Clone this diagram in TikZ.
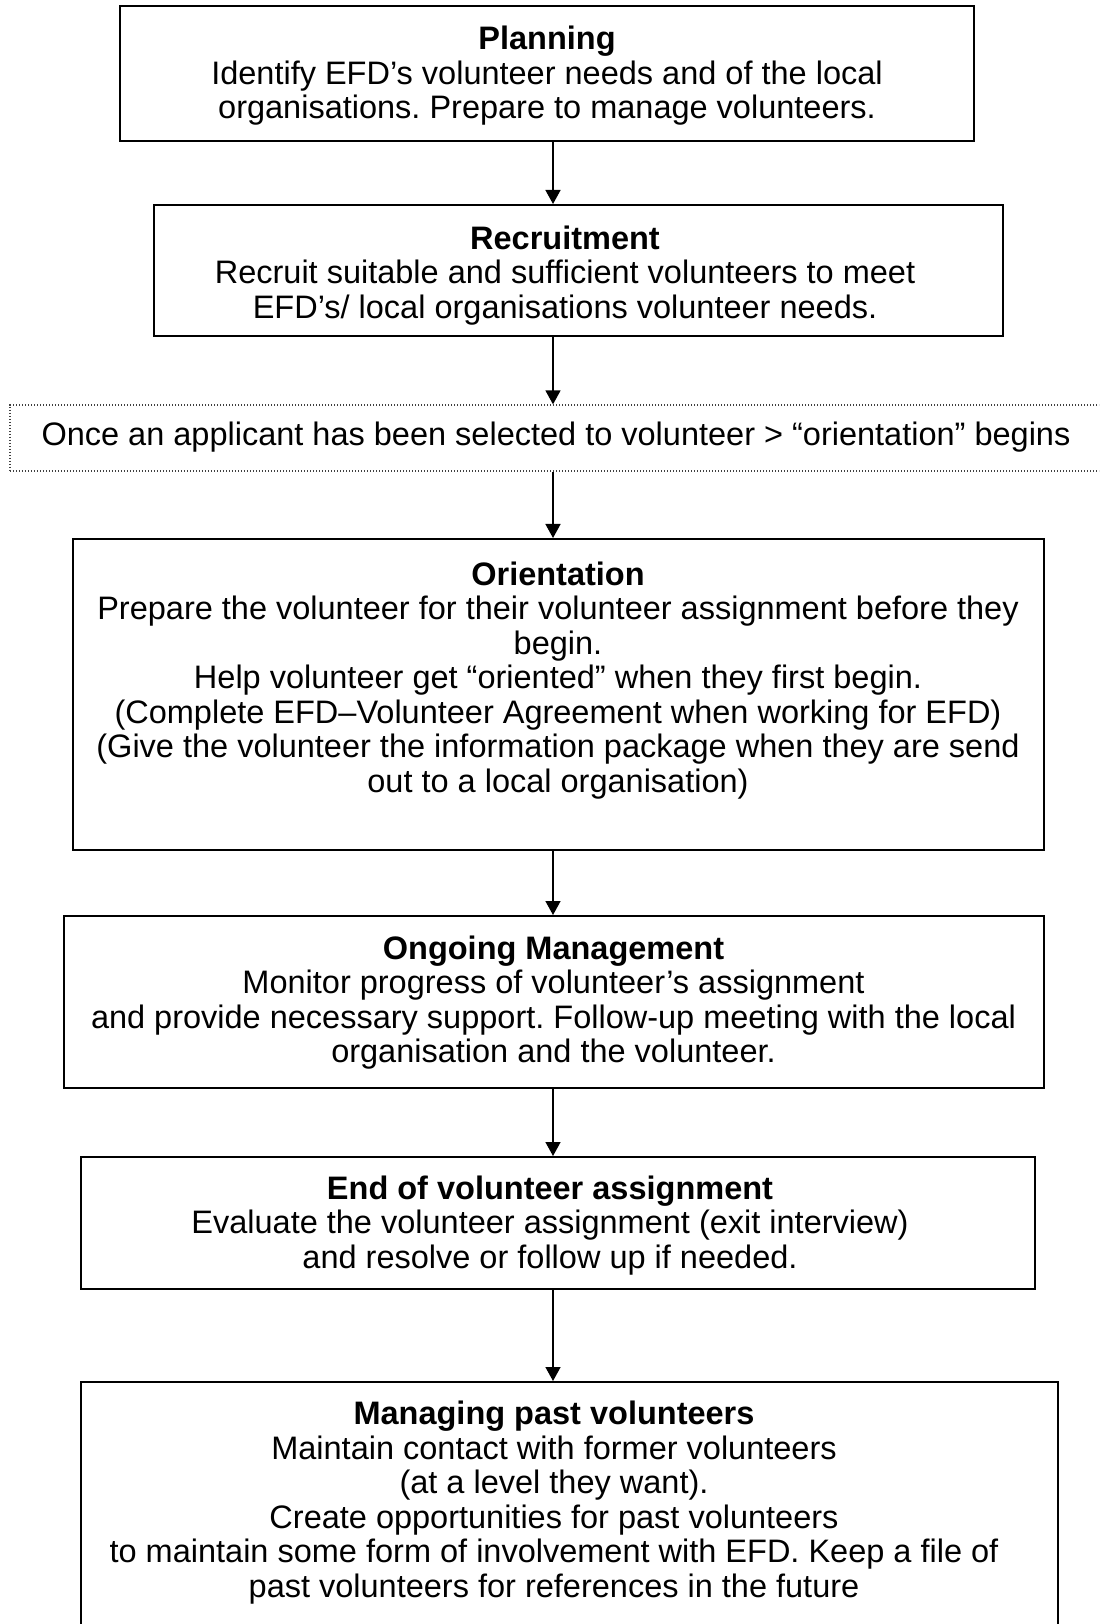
\documentclass[tikz,border=0pt]{standalone}
\usepackage{fontspec}
\setmainfont{Liberation Sans}
\usetikzlibrary{arrows.meta}
\frenchspacing

\begin{document}
\begin{tikzpicture}[x=0.4pt,y=-0.4pt,
      font=\fontsize{13}{13.8}\selectfont,
      frame/.style={draw,line width=0.8pt,inner sep=0pt},
      txt/.style={align=center,inner sep=0pt},
      arr/.style={-{Triangle[length=5.6pt,width=6pt]},line width=0.6pt}]
    \useasboundingbox (0,0) rectangle (1099,1624);
    \clip (0,0) rectangle (1099,1624);
    % frames of the steps
    \node[frame,minimum width=341.6pt,minimum height=54pt] (plan) at (547,73.5) {};
    \node[frame,minimum width=339.6pt,minimum height=52.4pt] (recr) at (578.5,270.5) {};
    \node[frame,draw=black!75,line width=0.5pt,dash pattern=on 0.5pt off 0.7pt,minimum width=440pt,minimum height=26.4pt] (sel) at (560,438) {};
    \node[frame,minimum width=388.4pt,minimum height=124.4pt] (orient) at (558.5,694.5) {};
    \node[frame,minimum width=392pt,minimum height=68.8pt] (ongo) at (554,1002) {};
    \node[frame,minimum width=381.6pt,minimum height=52.8pt] (endv) at (558,1223) {};
    \node[frame,minimum width=390.8pt,minimum height=127.2pt] (past) at (569.5,1541) {};
    % texts
    \node[txt] (planT) at (547,76) {\textbf{Planning}\\Identify EFD’s volunteer needs and of the local\\organisations. Prepare to manage volunteers.};
    \node[txt] (recrT) at (565,275.5) {\textbf{Recruitment}\\Recruit suitable and sufficient volunteers to meet\\EFD’s/ local organisations volunteer needs.};
    \node[txt] (selT) at (556,437) {Once an applicant has been selected to volunteer > “orientation” begins};
    \node[txt] (orientT) at (558,680.5) {\textbf{Orientation}\\Prepare the volunteer for their volunteer assignment before they\\begin.\\Help volunteer get “oriented” when they first begin.\\(Complete EFD–Volunteer Agreement when working for EFD)\\(Give the volunteer the information package when they are send\\out to a local organisation)};
    \node[txt] (ongoT) at (553.5,1002.5) {\textbf{Ongoing Management}\\Monitor progress of volunteer’s assignment\\and provide necessary support. Follow-up meeting with the local\\organisation and the volunteer.};
    \node[txt] (endvT) at (550,1225.5) {\textbf{End of volunteer assignment}\\Evaluate the volunteer assignment (exit interview)\\and resolve or follow up if needed.};
    \node[txt] (pastT) at (554,1502.5) {\textbf{Managing past volunteers}\\Maintain contact with former volunteers\\(at a level they want).\\Create opportunities for past volunteers\\to maintain some form of involvement with EFD. Keep a file of\\past volunteers for references in the future};
    % arrows
    \coordinate (ax) at (553,0);
    \draw[arr] (plan.south -| ax) -- (recr.north -| ax);
    \draw[arr] (recr.south -| ax) -- (sel.north -| ax);
    \draw[arr] (sel.south -| ax) -- (orient.north -| ax);
    \draw[arr] (orient.south -| ax) -- (ongo.north -| ax);
    \draw[arr] (ongo.south -| ax) -- (endv.north -| ax);
    \draw[arr] (endv.south -| ax) -- (past.north -| ax);
  \end{tikzpicture}
\end{document}
